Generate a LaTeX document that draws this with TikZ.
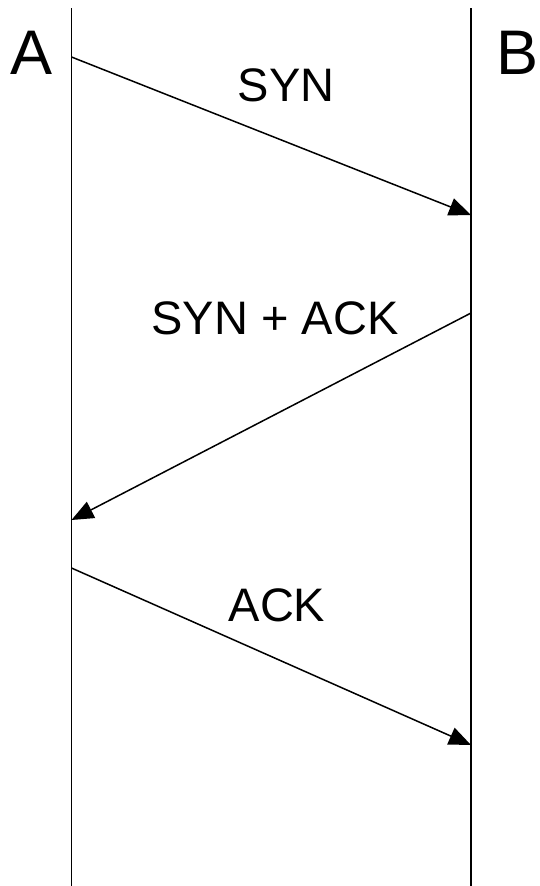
\documentclass[tikz,border=0pt]{standalone}
\usepackage{fontspec}
\setmainfont{Liberation Sans}
\usetikzlibrary{arrows.meta}
\begin{document}
\begin{tikzpicture}[x=1pt,y=-1pt,
  life/.style={line width=1.5pt},
  msg/.style={line width=1.5pt,-{Triangle[length=22pt,width=18pt]}},
  big/.style={font=\fontsize{63}{63}\selectfont,inner sep=0pt},
  lbl/.style={font=\fontsize{47}{47}\selectfont,inner sep=0pt}]
\useasboundingbox (0,0) rectangle (540,886);
\coordinate (Atop) at (71.5,8);
\coordinate (Abot) at (71.5,886);
\coordinate (Btop) at (471,8);
\coordinate (Bbot) at (471,886);
\coordinate (s1) at (71.5,57);
\coordinate (e1) at (471,215);
\coordinate (s2) at (471,313);
\coordinate (e2) at (71.5,520);
\coordinate (s3) at (71.5,568);
\coordinate (e3) at (471,745);
\draw[life] (Atop) -- (Abot);
\draw[life] (Btop) -- (Bbot);
\node[big] (A) at (32,53) {A};
\node[big] (B) at (517.5,53) {B};
\draw[msg] (s1) -- (e1);
\draw[msg] (s2) -- (e2);
\draw[msg] (s3) -- (e3);
\node[lbl] (l1) at (286,85) {SYN};
\node[lbl] (l2) at (275,318) {SYN + ACK};
\node[lbl] (l3) at (277,605) {ACK};
\end{tikzpicture}
\end{document}
